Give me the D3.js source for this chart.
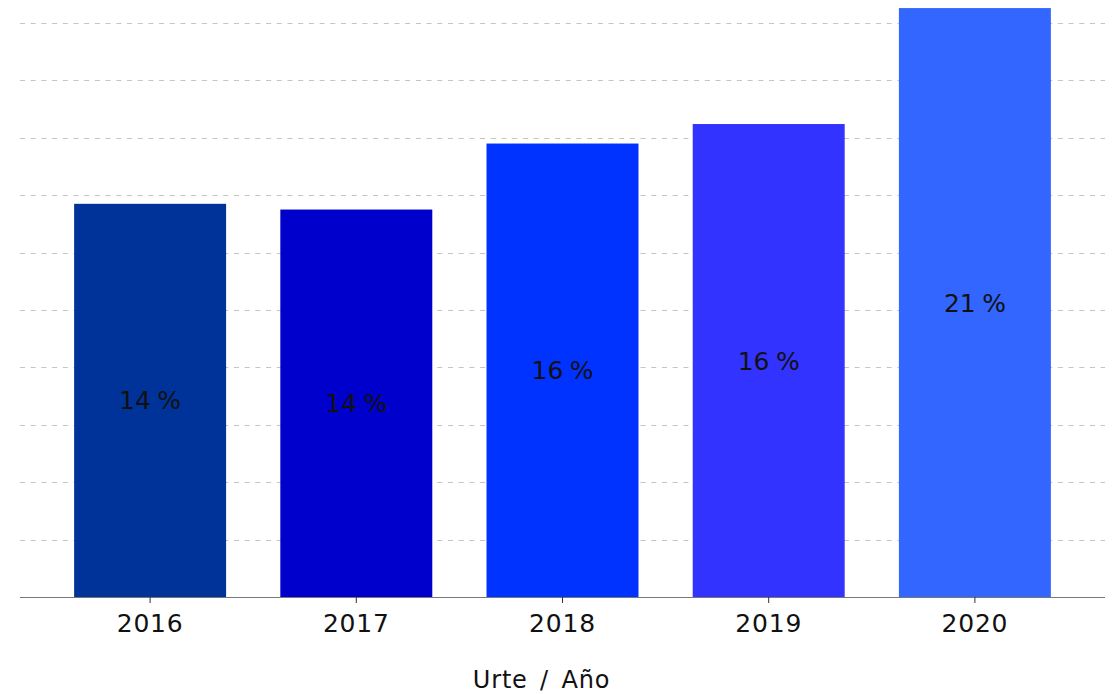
<!DOCTYPE html>
<html>
<head>
<meta charset="utf-8">
<script src="https://cdn.jsdelivr.net/npm/d3@7"></script>
<style>
  html, body { margin: 0; padding: 0; background: #fff; }
  svg { display: block; font-family: "DejaVu Sans", Verdana, sans-serif; }
</style>
</head>
<body>
<svg id="chart" width="1115" height="694"></svg>
<script>
const years = ["2016", "2017", "2018", "2019", "2020"];
const values = [13.7, 13.5, 15.8, 16.48, 20.52];
const colors = ["#003399", "#0000CC", "#0033FF", "#3333FF", "#3366FF"];
const gridTicks = [0, 2, 4, 6, 8, 10, 12, 14, 16, 18, 20];
const xTitle = "Urte / Año";

const svg = d3.select("#chart");
const mLeft = 20, mRight = 1105, mTop = 23, mBottom = 597;

const x = d3.scaleBand().domain(years).range([mLeft, mRight])
  .paddingInner(0.263).paddingOuter(0.2625);
const y = d3.scaleLinear().domain([0, 20]).range([mBottom, mTop]);

// gridlines
svg.append("g").selectAll("line").data(gridTicks).join("line")
  .attr("x1", mLeft).attr("x2", mRight)
  .attr("y1", d => Math.round(y(d)) + 0.5).attr("y2", d => Math.round(y(d)) + 0.5)
  .attr("stroke", "#c4c4c4").attr("stroke-width", 1)
  .attr("stroke-dasharray", "5,5.7");

// bars
svg.append("g").selectAll("rect").data(years).join("rect")
  .attr("x", d => x(d))
  .attr("width", x.bandwidth())
  .attr("y", (d, i) => y(values[i]))
  .attr("height", (d, i) => y(0) - y(values[i]))
  .attr("fill", (d, i) => colors[i]);

// value labels
svg.append("g").selectAll("text").data(years).join("text")
  .attr("x", d => x(d) + x.bandwidth() / 2)
  .attr("y", (d, i) => (y(values[i]) + y(0)) / 2)
  .attr("dy", "0.36em")
  .attr("text-anchor", "middle")
  .attr("font-size", 25)
  .attr("word-spacing", "-1.5px")
  .attr("fill", "#111")
  .text((d, i) => Math.round(values[i]) + " %");

// x axis
const xAxis = d3.axisBottom(x).tickSize(6).tickPadding(11).tickSizeOuter(0);
const gx = svg.append("g").attr("transform", `translate(0,${mBottom})`).call(xAxis);
gx.select(".domain").attr("stroke", "#777").attr("d", `M${mLeft},0.5H${mRight}`);
gx.selectAll(".tick line").attr("stroke", "#333");
gx.selectAll(".tick text").attr("font-size", 25).attr("fill", "#111")
  .attr("letter-spacing", "0.8px")
  .attr("font-family", "DejaVu Sans, sans-serif");

// axis title
svg.append("text")
  .attr("x", 541.5)
  .attr("y", 688)
  .attr("text-anchor", "middle")
  .attr("font-size", 24)
  .attr("letter-spacing", "0.8px")
  .attr("word-spacing", "4px")
  .attr("fill", "#111")
  .text(xTitle);
</script>
</body>
</html>
